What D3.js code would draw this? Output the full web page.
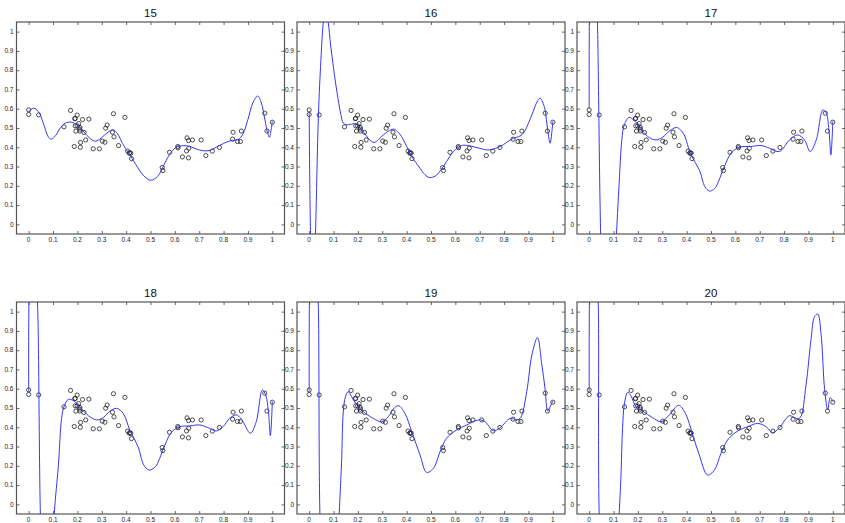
<!DOCTYPE html>
<html>
<head>
<meta charset="utf-8">
<script src="https://cdnjs.cloudflare.com/ajax/libs/d3/7.8.5/d3.min.js"></script>
<style>
  body { margin: 0; background: #fff; }
  svg { display: block; }
  .tick-label { font-family: "Liberation Sans", Arial, sans-serif; font-size: 6.5px; fill: #222; }
  .title { font-family: "Liberation Sans", Arial, sans-serif; font-size: 11.5px; fill: #111; }
</style>
</head>
<body>
<svg id="chart"></svg>
<script>
// observed data points (same in every panel)
var pointsX = [0, 0, 0.041, 0.145, 0.172, 0.189, 0.191, 0.199, 0.221, 0.247, 0.205, 0.191, 0.199,
  0.210, 0.210, 0.194, 0.210, 0.227, 0.213, 0.187, 0.212, 0.234, 0.265, 0.290, 0.302, 0.313,
  0.316, 0.322, 0.348, 0.344, 0.350, 0.369, 0.395, 0.406, 0.413, 0.419, 0.415, 0.422, 0.548,
  0.551, 0.578, 0.612, 0.613, 0.631, 0.650, 0.656, 0.672, 0.648, 0.656, 0.657, 0.708, 0.727,
  0.754, 0.783, 0.839, 0.837, 0.857, 0.869, 0.873, 0.969, 0.978, 1.0];
var pointsY = [0.594, 0.570, 0.568, 0.506, 0.591, 0.548, 0.550, 0.567, 0.544, 0.546, 0.523, 0.511, 0.511,
  0.503, 0.494, 0.484, 0.484, 0.477, 0.425, 0.404, 0.400, 0.438, 0.392, 0.392, 0.432, 0.426,
  0.499, 0.515, 0.574, 0.478, 0.454, 0.409, 0.555, 0.380, 0.369, 0.369, 0.372, 0.341, 0.295,
  0.279, 0.374, 0.404, 0.397, 0.350, 0.449, 0.435, 0.438, 0.381, 0.345, 0.395, 0.438, 0.357,
  0.380, 0.399, 0.478, 0.442, 0.430, 0.430, 0.484, 0.577, 0.484, 0.530];

// fitted curves, [x, y]
var curve15 = [[0,0.585],[0.02,0.603],[0.04,0.585],[0.06,0.525],[0.08,0.455],[0.092,0.442],[0.11,0.46],
  [0.13,0.50],[0.15,0.525],[0.175,0.530],[0.2,0.515],[0.22,0.49],[0.24,0.46],[0.27,0.432],[0.29,0.44],
  [0.31,0.462],[0.33,0.482],[0.347,0.490],[0.365,0.47],[0.385,0.42],[0.41,0.37],[0.44,0.31],[0.47,0.255],
  [0.5,0.229],[0.53,0.25],[0.55,0.295],[0.57,0.345],[0.59,0.383],[0.61,0.403],[0.635,0.408],[0.66,0.405],
  [0.69,0.39],[0.715,0.382],[0.74,0.383],[0.77,0.4],[0.8,0.42],[0.83,0.435],[0.86,0.44],[0.88,0.47],
  [0.9,0.545],[0.92,0.63],[0.94,0.666],[0.955,0.63],[0.97,0.54],[0.98,0.478],[0.988,0.452],[0.995,0.49],[1.0,0.535]];
var curve16 = [[0,0.577],[0.0055,-0.05],[0.016,-0.5],[0.026,-0.05],[0.038,0.568],[0.048,0.85],[0.058,1.05],
  [0.067,1.13],[0.078,1.05],[0.088,0.93],[0.099,0.82],[0.11,0.72],[0.119,0.647],[0.13,0.57],[0.14,0.525],
  [0.153,0.517],[0.17,0.519],[0.188,0.522],[0.205,0.505],[0.222,0.482],[0.242,0.447],[0.266,0.425],
  [0.285,0.44],[0.304,0.464],[0.33,0.487],[0.349,0.494],[0.365,0.478],[0.379,0.456],[0.4,0.405],[0.421,0.352],
  [0.455,0.291],[0.475,0.258],[0.493,0.243],[0.51,0.246],[0.523,0.256],[0.545,0.29],[0.564,0.326],[0.592,0.378],
  [0.626,0.409],[0.66,0.407],[0.701,0.394],[0.736,0.386],[0.784,0.404],[0.81,0.425],[0.838,0.447],[0.86,0.455],
  [0.879,0.473],[0.914,0.568],[0.935,0.635],[0.948,0.655],[0.958,0.635],[0.968,0.594],[0.979,0.49],
  [0.989,0.421],[1.0,0.534]];
var curve17 = [[0,0.6],[0.002,1.2],[0.015,1.7],[0.03,1.2],[0.034,1.05],[0.047,-0.05],[0.06,-0.6],
  [0.09,-0.6],[0.112,-0.05],[0.123,0.213],[0.134,0.438],[0.144,0.516],[0.164,0.555],[0.185,0.539],
  [0.212,0.499],[0.240,0.456],[0.274,0.438],[0.301,0.452],[0.33,0.485],[0.359,0.503],[0.375,0.49],[0.390,0.464],
  [0.418,0.36],[0.452,0.283],[0.475,0.195],[0.493,0.173],[0.51,0.18],[0.521,0.196],[0.555,0.3],[0.582,0.369],
  [0.616,0.4],[0.664,0.404],[0.705,0.409],[0.740,0.395],[0.781,0.378],[0.822,0.438],[0.856,0.464],
  [0.884,0.438],[0.907,0.378],[0.932,0.438],[0.959,0.594],[0.973,0.577],[0.984,0.49],[0.992,0.36],[1.0,0.534]];
var curve18 = [[0,0.585],[0.002,1.15],[0.015,1.6],[0.03,1.15],[0.036,1.05],[0.048,-0.05],[0.06,-0.5],
  [0.09,-0.5],[0.105,-0.05],[0.122,0.204],[0.135,0.446],[0.145,0.507],[0.163,0.545],[0.186,0.536],
  [0.217,0.495],[0.245,0.46],[0.279,0.438],[0.306,0.45],[0.335,0.485],[0.361,0.498],[0.388,0.472],
  [0.415,0.386],[0.449,0.299],[0.472,0.205],[0.493,0.178],[0.51,0.185],[0.525,0.204],[0.559,0.308],
  [0.586,0.374],[0.620,0.403],[0.661,0.407],[0.702,0.412],[0.743,0.394],[0.770,0.381],[0.798,0.403],
  [0.825,0.446],[0.852,0.464],[0.873,0.443],[0.910,0.369],[0.934,0.429],[0.959,0.593],[0.973,0.567],
  [0.984,0.481],[0.992,0.356],[1.0,0.533]];
var curve19 = [[0,0.59],[0.002,1.15],[0.015,1.6],[0.032,1.15],[0.037,1.05],[0.044,-0.05],[0.06,-0.6],
  [0.1,-0.6],[0.123,-0.05],[0.133,0.221],[0.140,0.481],[0.149,0.559],[0.160,0.585],[0.174,0.559],
  [0.195,0.516],[0.222,0.481],[0.263,0.446],[0.297,0.429],[0.325,0.455],[0.345,0.495],[0.366,0.512],
  [0.393,0.472],[0.421,0.377],[0.455,0.256],[0.482,0.166],[0.510,0.187],[0.537,0.273],[0.564,0.343],
  [0.605,0.386],[0.647,0.412],[0.695,0.438],[0.722,0.429],[0.756,0.382],[0.784,0.398],[0.825,0.446],
  [0.852,0.438],[0.868,0.45],[0.893,0.585],[0.914,0.775],[0.937,0.865],[0.955,0.723],[0.968,0.602],
  [0.979,0.484],[0.989,0.507],[1.0,0.536]];
var curve20 = [[0,0.59],[0.002,1.15],[0.015,1.6],[0.032,1.15],[0.037,1.05],[0.041,-0.05],[0.06,-0.6],
  [0.1,-0.6],[0.123,-0.05],[0.130,0.135],[0.137,0.394],[0.144,0.516],[0.158,0.581],[0.171,0.564],
  [0.192,0.507],[0.219,0.484],[0.260,0.45],[0.295,0.429],[0.329,0.464],[0.367,0.514],[0.395,0.472],
  [0.425,0.36],[0.452,0.256],[0.486,0.152],[0.514,0.178],[0.541,0.265],[0.568,0.334],[0.610,0.381],
  [0.651,0.403],[0.692,0.420],[0.726,0.403],[0.753,0.372],[0.781,0.398],[0.822,0.460],[0.849,0.446],
  [0.866,0.45],[0.890,0.619],[0.911,0.862],[0.925,0.974],[0.938,0.988],[0.952,0.88],[0.966,0.602],
  [0.979,0.49],[0.989,0.554],[0.997,0.541],[1.0,0.533]];

var titles = ["15", "16", "17", "18", "19", "20"];
var curves = [curve15, curve16, curve17, curve18, curve19, curve20];
var xTickVals = [0, 0.1, 0.2, 0.3, 0.4, 0.5, 0.6, 0.7, 0.8, 0.9, 1];
var xTickLabels = ["0", "0.1", "0.2", "0.3", "0.4", "0.5", "0.6", "0.7", "0.8", "0.9", "1"];
var yTickVals = [0, 0.1, 0.2, 0.3, 0.4, 0.5, 0.6, 0.7, 0.8, 0.9, 1];
var yTickLabels = ["0", "0.1", "0.2", "0.3", "0.4", "0.5", "0.6", "0.7", "0.8", "0.9", "1"];

var width = 845, height = 523;
var panelW = 268, panelH = 212;
var lefts = [16.5, 297, 577];
var tops = [22, 302];

var svg = d3.select("#chart")
    .attr("width", width)
    .attr("height", height);

titles.forEach(function(title, i) {
    var ox = lefts[i % 3], oy = tops[Math.floor(i / 3)];

    var x = d3.scaleLinear().domain([-0.05, 1.05]).range([0, panelW]);
    var y = d3.scaleLinear().domain([-0.05, 1.05]).range([panelH, 0]);

    var g = svg.append("g")
        .attr("transform", "translate(" + ox + "," + oy + ")");

    g.append("defs").append("clipPath")
        .attr("id", "clip" + i)
        .append("rect")
        .attr("width", panelW)
        .attr("height", panelH);

    // inward ticks on all four sides, MATLAB style
    var tk = 3;
    g.append("g")
        .attr("transform", "translate(0," + panelH + ")")
        .call(d3.axisBottom(x).tickValues(xTickVals).tickSizeInner(-tk).tickSizeOuter(0).tickFormat(""));
    g.append("g")
        .call(d3.axisTop(x).tickValues(xTickVals).tickSizeInner(-tk).tickSizeOuter(0).tickFormat(""));
    g.append("g")
        .call(d3.axisLeft(y).tickValues(yTickVals).tickSizeInner(-tk).tickSizeOuter(0).tickFormat(""));
    g.append("g")
        .attr("transform", "translate(" + panelW + ",0)")
        .call(d3.axisRight(y).tickValues(yTickVals).tickSizeInner(-tk).tickSizeOuter(0).tickFormat(""));
    g.selectAll(".domain").remove();
    g.selectAll(".tick line").attr("stroke", "#444").attr("stroke-width", 0.8);

    // tick labels
    g.selectAll(".xlab")
        .data(xTickVals).enter()
        .append("text")
        .attr("class", "tick-label")
        .attr("x", d => x(d))
        .attr("y", panelH + 7.5)
        .attr("text-anchor", "middle")
        .text((d, j) => xTickLabels[j]);
    g.selectAll(".ylab")
        .data(yTickVals).enter()
        .append("text")
        .attr("class", "tick-label")
        .attr("x", -3)
        .attr("y", d => y(d) + 2.3)
        .attr("text-anchor", "end")
        .text((d, j) => yTickLabels[j]);

    // data points
    g.append("g")
        .selectAll("circle")
        .data(pointsX).enter()
        .append("circle")
        .attr("cx", d => x(d))
        .attr("cy", (d, j) => y(pointsY[j]))
        .attr("r", 2.1)
        .attr("fill", "none")
        .attr("stroke", "#222")
        .attr("stroke-width", 0.8);

    // fitted polynomial
    var line = d3.line()
        .x(d => x(d[0]))
        .y(d => y(d[1]))
        .curve(d3.curveCatmullRom.alpha(0.5));
    g.append("path")
        .attr("clip-path", "url(#clip" + i + ")")
        .attr("d", line(curves[i]))
        .attr("fill", "none")
        .attr("stroke", "#3636f5")
        .attr("stroke-width", 1);

    // box
    g.append("rect")
        .attr("width", panelW)
        .attr("height", panelH)
        .attr("fill", "none")
        .attr("stroke", "#555")
        .attr("stroke-width", 1.2);

    // title
    g.append("text")
        .attr("class", "title")
        .attr("x", panelW / 2)
        .attr("y", -5)
        .attr("text-anchor", "middle")
        .text(title);
});
</script>
</body>
</html>
